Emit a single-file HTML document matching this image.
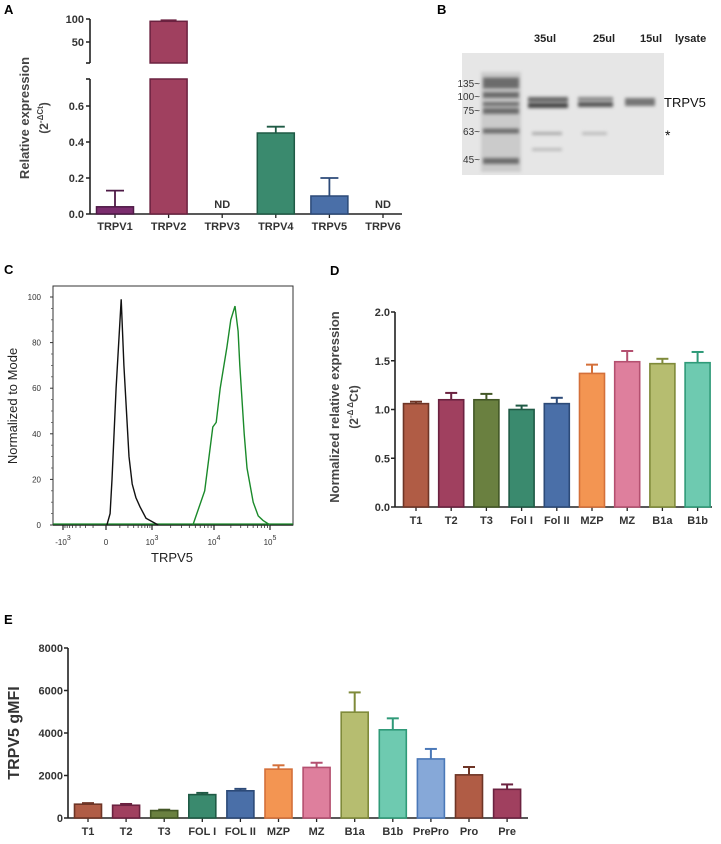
<!DOCTYPE html>
<html><head><meta charset="utf-8"><style>
body{margin:0;background:#fff}
svg{display:block;font-family:"Liberation Sans",Arial,sans-serif}
.b{font-weight:bold}
</style></head><body>
<svg id="fig" width="721" height="844" viewBox="0 0 721 844" xmlns="http://www.w3.org/2000/svg">
<defs><filter id="blur"><feGaussianBlur stdDeviation="1.6"/></filter></defs>
<g id="pa"></g>
<g id="pb"></g>
<g id="pc"></g>
<g id="pd"></g>
<g id="pe"></g>
</svg>
<script>
// ---------- data ----------
const aCats = ["TRPV1","TRPV2","TRPV3","TRPV4","TRPV5","TRPV6"];
const aVals = [0.04, 95, null, 0.45, 0.10, null];
const aErrs = [0.09, 2, null, 0.035, 0.10, null];
const aLowTicks = [0.0, 0.2, 0.4, 0.6];
const aHighTicks = [50, 100];

const dCats = ["T1","T2","T3","Fol I","Fol II","MZP","MZ","B1a","B1b"];
const dVals = [1.06,1.10,1.10,1.00,1.06,1.37,1.49,1.47,1.48];
const dErrs = [0.02,0.07,0.06,0.04,0.06,0.09,0.11,0.05,0.11];
const dTicks = [0.0,0.5,1.0,1.5,2.0];

const eCats = ["T1","T2","T3","FOL I","FOL II","MZP","MZ","B1a","B1b","PrePro","Pro","Pre"];
const eVals = [650,600,350,1100,1280,2300,2380,4980,4150,2780,2030,1350];
const eErrs = [50,60,40,80,90,180,220,930,540,470,370,230];
const eTicks = [0,2000,4000,6000,8000];

const cYTicks = [0,20,40,60,80,100];
const cBlackU = [0.02,0.09,0.13,0.22,0.33,0.39,0.5,0.57,0.65,0.74,0.87,1.1];
const cBlackV = [0,5,20,60,99,70,30,18,12,8,3,0];
const cGreenU = [1.66,1.85,1.98,2.04,2.11,2.23,2.30,2.375,2.43,2.46,2.54,2.59,2.70,2.79,2.875,3.0];
const cGreenV = [0,15,43,45,60,78,90,96,85,70,40,25,10,4,2,0];

const aFill=["#7b2d6e","#a0405f",null,"#3a8a6e","#4a6fa8",null];
const aStroke=["#4e1a46","#6b2240",null,"#1f5a45","#2c4a78",null];
const dFill=["#b05c45","#a0405f","#6a8040","#3a8a6e","#4a6fa8","#f39552","#de7f9d","#b6bd70","#6ecab0"];
const dStroke=["#6e3526","#6b2240","#435726","#1f5a45","#2c4a78","#d4703a","#b45070","#7f8a3a","#2f9a78"];
const eFill=dFill.concat(["#86a8d8","#b05c45","#a0405f"]);
const eStroke=dStroke.concat(["#4a78b8","#6e3526","#6b2240"]);

const NS="http://www.w3.org/2000/svg";
function mk(parent,tag,attrs,text){const e=document.createElementNS(NS,tag);for(const k in attrs)e.setAttribute(k,attrs[k]);if(text!==undefined)e.textContent=text;parent.appendChild(e);return e;}

// ---------- Panel A ----------
(function(){
 const g=document.getElementById('pa');
 let t=mk(g,'text',{x:4,y:14,'font-size':13,'class':'b'},'A');
 
 const ax=90, y0=214, k=180;
 const yl=v=>y0-v*k;
 const yh=v=>65-v*0.46;
 const xc=i=>115+i*53.6, bw=37;
 mk(g,'line',{x1:ax,y1:79,x2:ax,y2:y0,stroke:'#222','stroke-width':1.6});
 mk(g,'line',{x1:ax,y1:19,x2:ax,y2:63,stroke:'#222','stroke-width':1.6});
 mk(g,'line',{x1:ax-4,y1:79,x2:ax,y2:79,stroke:'#222','stroke-width':1.6});
 mk(g,'line',{x1:ax-4,y1:63,x2:ax,y2:63,stroke:'#222','stroke-width':1.6});
 mk(g,'line',{x1:ax,y1:y0,x2:402,y2:y0,stroke:'#222','stroke-width':1.6});
 aLowTicks.forEach(v=>{mk(g,'line',{x1:ax-4,y1:yl(v),x2:ax,y2:yl(v),stroke:'#222','stroke-width':1.5});
  const tt=mk(g,'text',{x:ax-6,y:yl(v)+4,'font-size':11,'text-anchor':'end','class':'b',fill:'#333'},v.toFixed(1));
  });
 aHighTicks.forEach(v=>{mk(g,'line',{x1:ax-4,y1:yh(v),x2:ax,y2:yh(v),stroke:'#222','stroke-width':1.5});
  const tt=mk(g,'text',{x:ax-6,y:yh(v)+4,'font-size':11,'text-anchor':'end','class':'b',fill:'#333'},String(v));
  });
 const yt=mk(g,'text',{transform:'translate(29,118) rotate(-90)','font-size':13,'text-anchor':'middle','class':'b',fill:'#444'},'Relative expression');
 
 const yt2=mk(g,'text',{transform:'translate(48,118) rotate(-90)','font-size':12,'text-anchor':'middle','class':'b',fill:'#444'});
 yt2.innerHTML='(2<tspan font-size="8" dy="-5">-ΔCt</tspan><tspan dy="5">)</tspan>';
 
 aCats.forEach((c,i)=>{
  const x=xc(i);
  mk(g,'line',{x1:x,y1:y0,x2:x,y2:y0+4,stroke:'#222','stroke-width':1.3});
  const lb=mk(g,'text',{x:x,y:230,'font-size':11,'text-anchor':'middle','class':'b',fill:'#333'},c);
  
  const v=aVals[i];
  if(v===null){const nd=mk(g,'text',{x:x,y:y0-6,'font-size':11,'text-anchor':'middle','class':'b',fill:'#333'},'ND');
   return;}
  if(v>1){
   const b1=mk(g,'rect',{x:x-bw/2,y:yh(v),width:bw,height:63-yh(v),fill:aFill[i],stroke:aStroke[i],'stroke-width':1.5});
   
   const b2=mk(g,'rect',{x:x-bw/2,y:79,width:bw,height:y0-79,fill:aFill[i],stroke:aStroke[i],'stroke-width':1.5});
   
   const ye=yh(v+aErrs[i]);
   mk(g,'line',{x1:x-8,y1:ye,x2:x+8,y2:ye,stroke:aStroke[i],'stroke-width':2});
  } else {
   const ye=yl(v+aErrs[i]);
   mk(g,'line',{x1:x,y1:ye,x2:x,y2:yl(v),stroke:aStroke[i],'stroke-width':1.8});
   mk(g,'line',{x1:x-9,y1:ye,x2:x+9,y2:ye,stroke:aStroke[i],'stroke-width':1.8});
   const b=mk(g,'rect',{x:x-bw/2,y:yl(v),width:bw,height:y0-yl(v),fill:aFill[i],stroke:aStroke[i],'stroke-width':1.5});
   
  }
 });
})();

// ---------- Panel B (western blot) ----------
(function(){
 const g=document.getElementById('pb');
 let t=mk(g,'text',{x:437,y:14,'font-size':13,'class':'b'},'B');
 
 const hdr=[["35ul",534],["25ul",593],["15ul",640],["lysate",675]];
 hdr.forEach(h=>{const e=mk(g,'text',{x:h[1],y:42,'font-size':11,'class':'b',fill:'#222'},h[0]);
  });
 const gel=mk(g,'rect',{x:462,y:53,width:202,height:122,fill:'#e6e6e6'});
 
 const bl=mk(g,'g',{filter:'url(#blur)'});
 [[81,7],[86,5],[95,6],[104,4],[111,6],[131,5],[161,6]].forEach(b=>mk(bl,'rect',{x:483,y:b[0]-b[1]/2,width:36,height:b[1],fill:'#555'}));
 mk(bl,'rect',{x:481,y:72,width:40,height:100,fill:'#999',opacity:0.35});
 mk(bl,'rect',{x:528,y:97,width:40,height:5,fill:'#666'});
 mk(bl,'rect',{x:528,y:103,width:40,height:5,fill:'#444'});
 mk(bl,'rect',{x:578,y:97,width:35,height:4,fill:'#888'});
 mk(bl,'rect',{x:578,y:102,width:35,height:5,fill:'#555'});
 mk(bl,'rect',{x:625,y:98,width:30,height:8,fill:'#777'});
 mk(bl,'rect',{x:532,y:132,width:30,height:3,fill:'#aaa'});
 mk(bl,'rect',{x:582,y:132,width:25,height:3,fill:'#bbb'});
 mk(bl,'rect',{x:532,y:148,width:30,height:3,fill:'#bbb'});
 [["135~",87],["100~",100],["75~",114],["63~",135],["45~",163]].forEach(m=>{
  const e=mk(g,'text',{x:480,y:m[1],'font-size':10,'text-anchor':'end',fill:'#333'},m[0]);
  });
 let e=mk(g,'text',{x:664,y:107,'font-size':13,fill:'#111'},'TRPV5');
 e=mk(g,'text',{x:665,y:140,'font-size':14,fill:'#111'},'*');
})();

// ---------- Panel C (histogram) ----------
(function(){
 const g=document.getElementById('pc');
 let t=mk(g,'text',{x:4,y:274,'font-size':13,'class':'b'},'C');
 
 const L=53,T=286,R=293,B=525;
 const yv=v=>B-v*2.28;
 const ux=[[-1,63],[0,106],[1,152],[2,214],[3,270],[3.4,293]];
 function xu(u){for(let i=0;i<ux.length-1;i++){if(u<=ux[i+1][0]){const a=ux[i],b=ux[i+1];return a[1]+(u-a[0])/(b[0]-a[0])*(b[1]-a[1]);}}return 293;}
 mk(g,'rect',{x:L,y:T,width:R-L,height:B-T,fill:'none',stroke:'#333','stroke-width':1});
 mk(g,'line',{x1:L,y1:B,x2:R,y2:B,stroke:'#222','stroke-width':1.5});
 cYTicks.forEach(v=>{mk(g,'line',{x1:L-3,y1:yv(v),x2:L,y2:yv(v),stroke:'#333'});
  const e=mk(g,'text',{x:L-12,y:yv(v)+3,'font-size':8,'text-anchor':'end',fill:'#333'},String(v));
  });
 for(let v=5;v<100;v+=5) if(v%20) mk(g,'line',{x1:L-2,y1:yv(v),x2:L,y2:yv(v),stroke:'#555','stroke-width':0.8});
 const xl=[[-1,"-10","3"],[0,"0",""],[1,"10","3"],[2,"10","4"],[3,"10","5"]];
 xl.forEach(l=>{const x=xu(l[0]);mk(g,'line',{x1:x,y1:B,x2:x,y2:B+5,stroke:'#222','stroke-width':1.2});
  const e=mk(g,'text',{x:x,y:B+20,'font-size':8,'text-anchor':'middle',fill:'#333'});
  e.innerHTML=l[1]+(l[2]?'<tspan font-size="7" dy="-5">'+l[2]+'</tspan>':'');
  });
 for(let d=1;d<=2;d++)for(let m=2;m<=9;m++){const x=xu(d+Math.log10(m));mk(g,'line',{x1:x,y1:B,x2:x,y2:B+3,stroke:'#333','stroke-width':0.8});}
 for(let m=2;m<=9;m++){const x=xu(-Math.log10(m));mk(g,'line',{x1:x,y1:B,x2:x,y2:B+3,stroke:'#333','stroke-width':0.8});const x2=xu(Math.log10(m));mk(g,'line',{x1:x2,y1:B,x2:x2,y2:B+3,stroke:'#333','stroke-width':0.8});}
 let e=mk(g,'text',{x:172,y:562,'font-size':13,'text-anchor':'middle',fill:'#222'},'TRPV5');
 
 e=mk(g,'text',{transform:'translate(17,406) rotate(-90)','font-size':13,'text-anchor':'middle',fill:'#222'},'Normalized to Mode');
 
 mk(g,'line',{x1:L,y1:B-1,x2:R,y2:B-1,stroke:'#1a8a2a','stroke-width':1.2});
 const pb=cBlackU.map((u,i)=>xu(u).toFixed(1)+','+yv(cBlackV[i]).toFixed(1)).join(' ');
 e=mk(g,'polyline',{points:pb,fill:'none',stroke:'#111','stroke-width':1.4});
 
 const pg=cGreenU.map((u,i)=>xu(u).toFixed(1)+','+yv(cGreenV[i]).toFixed(1)).join(' ');
 e=mk(g,'polyline',{points:pg,fill:'none',stroke:'#1a8a2a','stroke-width':1.4});
 
})();

// ---------- generic bar chart ----------
function barChart(g,o){
 const yv=v=>o.y0-(v-0)/(o.ymax)*(o.y0-o.ytop);
 mk(g,'line',{x1:o.ax,y1:o.ytop,x2:o.ax,y2:o.y0,stroke:'#222','stroke-width':1.6});
 mk(g,'line',{x1:o.ax,y1:o.y0,x2:o.xend,y2:o.y0,stroke:'#222','stroke-width':1.6});
 o.ticks.forEach(v=>{mk(g,'line',{x1:o.ax-4,y1:yv(v),x2:o.ax,y2:yv(v),stroke:'#222','stroke-width':1.5});
  const e=mk(g,'text',{x:o.ax-5,y:yv(v)+4,'font-size':o.fs,'text-anchor':'end','class':'b',fill:'#333'},o.fmt(v));
  });
 o.cats.forEach((c,i)=>{
  const x=o.x0+i*o.sp, v=o.vals[i], er=o.errs[i];
  mk(g,'line',{x1:x,y1:o.y0,x2:x,y2:o.y0+4,stroke:'#222','stroke-width':1.3});
  const lb=mk(g,'text',{x:x,y:o.y0+17,'font-size':o.fs,'text-anchor':'middle','class':'b',fill:'#333'},c);
  
  mk(g,'line',{x1:x,y1:yv(v+er),x2:x,y2:yv(v),stroke:o.stroke[i],'stroke-width':2});
  mk(g,'line',{x1:x-6,y1:yv(v+er),x2:x+6,y2:yv(v+er),stroke:o.stroke[i],'stroke-width':2});
  const b=mk(g,'rect',{x:x-o.bw/2,y:yv(v),width:o.bw,height:o.y0-yv(v),fill:o.fill[i],stroke:o.stroke[i],'stroke-width':1.6});
  
 });
}

// ---------- Panel D ----------
(function(){
 const g=document.getElementById('pd');
 let t=mk(g,'text',{x:330,y:275,'font-size':13,'class':'b'},'D');
 
 barChart(g,{ax:395,y0:507,ytop:312,ymax:2.0,xend:712,x0:416,sp:35.2,bw:25,fs:11,
  cats:dCats,vals:dVals,errs:dErrs,ticks:dTicks,fill:dFill,stroke:dStroke,fmt:v=>v.toFixed(1)});
 let e=mk(g,'text',{transform:'translate(339,407) rotate(-90)','font-size':13,'text-anchor':'middle','class':'b',fill:'#444'},'Normalized relative expression');
 
 e=mk(g,'text',{transform:'translate(358,407) rotate(-90)','font-size':12,'text-anchor':'middle','class':'b',fill:'#444'});
 e.innerHTML='(2<tspan font-size="8" dy="-5">-Δ Δ</tspan><tspan dy="5">Ct)</tspan>';
 
})();

// ---------- Panel E ----------
(function(){
 const g=document.getElementById('pe');
 let t=mk(g,'text',{x:4,y:624,'font-size':13,'class':'b'},'E');
 
 barChart(g,{ax:68,y0:818,ytop:648,ymax:8000,xend:528,x0:88,sp:38.1,bw:27,fs:11,
  cats:eCats,vals:eVals,errs:eErrs,ticks:eTicks,fill:eFill,stroke:eStroke,fmt:v=>String(v)});
 let e=mk(g,'text',{transform:'translate(19,733) rotate(-90)','font-size':16,'text-anchor':'middle','class':'b',fill:'#333'},'TRPV5 gMFI');
 
})();
</script>
</body></html>
